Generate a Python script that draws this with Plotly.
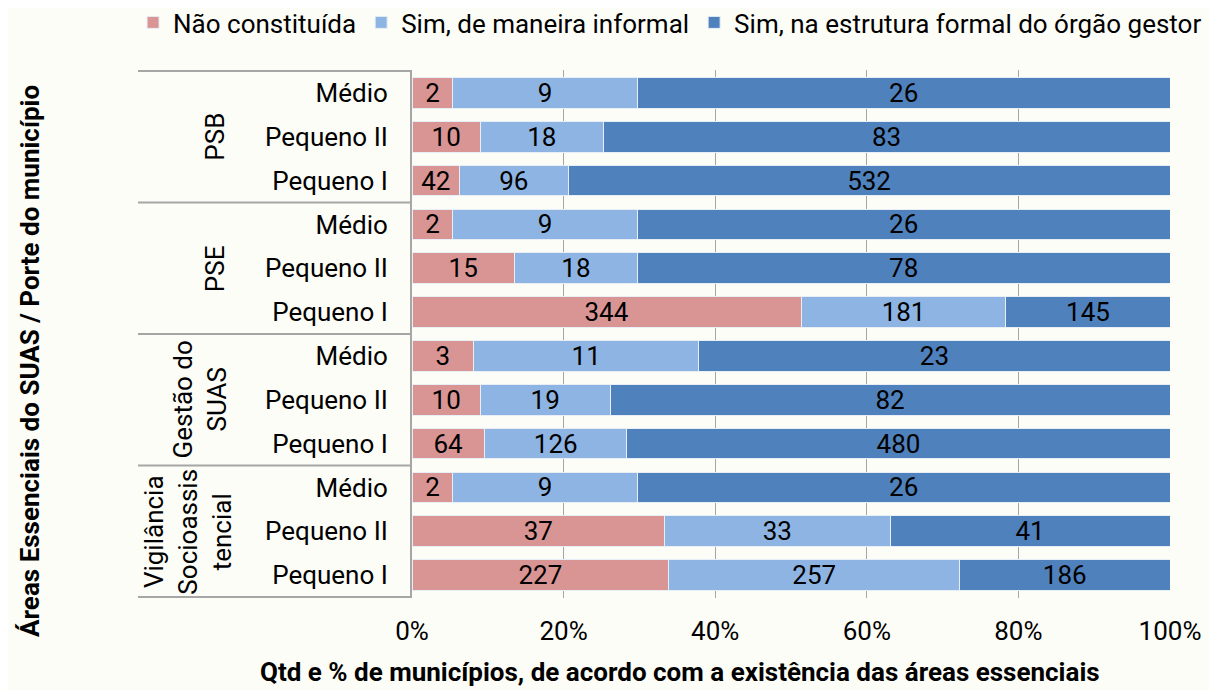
import plotly.graph_objects as go

# porte do município, de cima para baixo dentro de cada área
areas = ["PSB", "PSE", "Gestão do<br>SUAS", "Vigilância<br>Socioassis<br>tencial"]
portes = ["Médio", "Pequeno II", "Pequeno I"]

nao_constituida = [2, 10, 42, 2, 15, 344, 3, 10, 64, 2, 37, 227]
sim_informal = [9, 18, 96, 9, 18, 181, 11, 19, 126, 9, 33, 257]
sim_formal = [26, 83, 532, 26, 78, 145, 23, 82, 480, 26, 41, 186]

series = [
    ("Não constituída", nao_constituida, "#D99594"),
    ("Sim, de maneira informal", sim_informal, "#8EB4E3"),
    ("Sim, na estrutura formal do órgão gestor", sim_formal, "#4F81BD"),
]

FONT = "Roboto, Arial, sans-serif"
BG = "#FDFDF7"
FS = 26

# um id único por linha, o texto do tick é só o porte
row_ids = [f"{a}|{p}" for a in areas for p in portes]
row_text = [p for a in areas for p in portes]

fig = go.Figure()
for name, vals, color in series:
    fig.add_trace(go.Bar(
        y=row_ids, x=vals, name=name, orientation="h",
        marker=dict(color=color, line=dict(color="#E8EEF5", width=1)),
        text=vals, textposition="inside", insidetextanchor="middle",
        textfont=dict(color="black", size=FS, family=FONT),
        textangle=0,
    ))

# posição x (paper) do rótulo de cada área
area_x = [-0.26, -0.26, -0.28, -0.295]

shapes = []
annotations = []
for i, a in enumerate(areas):
    top = i * 3 - 0.5
    shapes.append(dict(type="line", xref="paper", yref="y",
                       x0=-0.3615, x1=0, y0=top, y1=top,
                       line=dict(color="#A6A6A6", width=2)))
    annotations.append(dict(text=a, xref="paper", yref="y",
                            x=area_x[i], y=i * 3 + 1, textangle=-90,
                            xanchor="center", yanchor="middle",
                            showarrow=False, align="center",
                            font=dict(size=FS, family=FONT, color="black")))
shapes.append(dict(type="line", xref="paper", yref="y",
                   x0=-0.3615, x1=0, y0=len(row_ids) - 0.5, y1=len(row_ids) - 0.5,
                   line=dict(color="#A6A6A6", width=2)))

annotations.append(dict(text="<b>Áreas Essenciais do SUAS / Porte do município</b>",
                        xref="paper", yref="paper", x=-0.504, y=0.449,
                        xanchor="center", yanchor="middle",
                        textangle=-90, showarrow=False,
                        font=dict(size=FS, family=FONT, color="black")))
annotations.append(dict(text="<b>Qtd e % de municípios, de acordo com a existência das áreas essenciais</b>",
                        xref="paper", yref="paper", x=0.354, y=-0.14,
                        xanchor="center", yanchor="middle", showarrow=False,
                        font=dict(size=FS, family=FONT, color="black")))

# a página tem 8 px de margem no body, então a figura é 8 px menor
fig.update_layout(
    barmode="stack", barnorm="percent", bargap=0.3,
    width=1209, height=682,
    margin=dict(l=404, r=47, t=62, b=92, autoexpand=False),
    paper_bgcolor=BG, plot_bgcolor=BG,
    font=dict(family=FONT, size=FS, color="black"),
    uniformtext=dict(minsize=FS, mode="show"),
    legend=dict(orientation="h", x=-0.368, xanchor="left", y=1.09, yanchor="middle",
                font=dict(size=FS), traceorder="normal",
                bgcolor="rgba(0,0,0,0)"),
    shapes=shapes, annotations=annotations,
)
fig.update_xaxes(range=[0, 100], tickvals=[0, 20, 40, 60, 80, 100],
                 ticktext=["0%", "20%", "40%", "60%", "80%", "100%"],
                 showgrid=True, gridcolor="#A6A6A6", gridwidth=1,
                 zeroline=False, ticks="", tickfont=dict(size=FS),
                 ticklabelstandoff=15,
                 showline=False, fixedrange=True)
fig.update_yaxes(categoryorder="array", categoryarray=row_ids,
                 tickvals=row_ids, ticktext=row_text,
                 autorange="reversed",
                 showline=True, linecolor="#A6A6A6", linewidth=2,
                 ticks="", ticklabelstandoff=17, tickfont=dict(size=FS),
                 showgrid=False, zeroline=False)

fig.write_html("out.html")
